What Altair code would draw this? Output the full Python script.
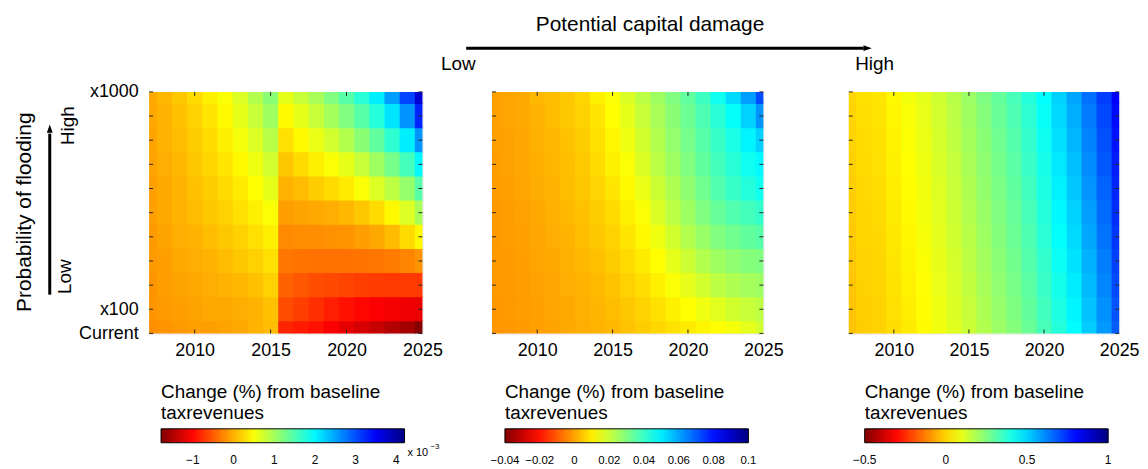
import altair as alt
import pandas as pd

FONT = "Liberation Sans"

# ---------------- axes / grid ----------------
years = list(range(2007, 2026))          # x grid nodes
levels = list(range(0, 11))              # 0 = Current, 1 = x100, ..., 10 = x1000
x_label_years = [2010, 2015, 2020, 2025]
inner_tick_years = [2010, 2015, 2020]
y_label_levels = [0, 1, 10]

# reversed "jet" colormap stops (evenly spaced)
jet_colors = ["#800000", "#ff0000", "#ff8000", "#ffff00", "#80ff80",
              "#00ffff", "#0080ff", "#0000ff", "#000080"]

# ---------------- panel 1 (values in units of 1e-3 %) rows L0..L10, cols 2007..2025
panel1_rows = [
    [-0.20, -0.17, -0.14, -0.11, -0.11, -0.08, -0.05, 0.01, 0.07, -0.82, -0.88, -0.94, -1.06, -1.18, -1.27, -1.36, -1.48, -1.57, -1.75],
    [-0.17, -0.14, -0.11, -0.08, -0.05, -0.05, -0.02, 0.01, 0.10, -0.58, -0.67, -0.76, -0.85, -0.94, -1.00, -1.06, -1.09, -1.12, -1.15],
    [-0.17, -0.11, -0.08, -0.05, -0.02, 0.01, 0.04, 0.10, 0.19, -0.46, -0.52, -0.58, -0.61, -0.64, -0.67, -0.69, -0.70, -0.70, -0.70],
    [-0.14, -0.11, -0.05, -0.02, 0.01, 0.07, 0.13, 0.19, 0.28, -0.34, -0.36, -0.37, -0.37, -0.37, -0.36, -0.34, -0.31, -0.26, -0.17],
    [-0.14, -0.08, -0.02, 0.01, 0.07, 0.13, 0.19, 0.28, 0.37, -0.23, -0.21, -0.20, -0.18, -0.17, -0.11, -0.05, 0.07, 0.25, 0.43],
    [-0.11, -0.05, 0.01, 0.07, 0.13, 0.19, 0.28, 0.37, 0.49, -0.11, -0.08, -0.05, -0.02, 0.04, 0.13, 0.25, 0.43, 0.67, 0.97],
    [-0.11, -0.05, 0.01, 0.10, 0.16, 0.25, 0.34, 0.46, 0.61, 0.01, 0.07, 0.16, 0.25, 0.34, 0.49, 0.67, 0.85, 1.09, 1.45],
    [-0.08, -0.02, 0.04, 0.13, 0.22, 0.31, 0.43, 0.55, 0.73, 0.13, 0.25, 0.37, 0.49, 0.61, 0.79, 1.03, 1.27, 1.57, 1.99],
    [-0.08, 0.01, 0.07, 0.16, 0.25, 0.37, 0.52, 0.67, 0.88, 0.28, 0.43, 0.58, 0.73, 0.91, 1.15, 1.39, 1.69, 2.05, 2.59],
    [-0.05, 0.01, 0.10, 0.19, 0.31, 0.43, 0.61, 0.79, 1.03, 0.43, 0.61, 0.79, 1.00, 1.21, 1.45, 1.75, 2.11, 2.59, 3.24],
    [-0.05, 0.04, 0.13, 0.25, 0.37, 0.49, 0.67, 0.91, 1.15, 0.61, 0.79, 0.97, 1.21, 1.45, 1.72, 2.05, 2.53, 3.06, 3.70],
]
panel1_domain = [-1.78, 4.2]
panel1_legend_values = [-1, 0, 1, 2, 3, 4]

# ---------------- panel 2 rows L0..L10, cols 2007..2025
panel2_rows = [
    [-0.0019, -0.0018, -0.0014, -0.0008, -0.0002, 0.0005, 0.0012, 0.0020, 0.0027, 0.0041, 0.0055, 0.0069, 0.0083, 0.0097, 0.0111, 0.0125, 0.0139, 0.0160, 0.0188],
    [-0.0018, -0.0016, -0.0012, -0.0007, 0.0000, 0.0007, 0.0016, 0.0024, 0.0034, 0.0048, 0.0065, 0.0083, 0.0104, 0.0125, 0.0146, 0.0167, 0.0188, 0.0202, 0.0216],
    [-0.0016, -0.0015, -0.0011, -0.0004, 0.0003, 0.0012, 0.0020, 0.0030, 0.0042, 0.0062, 0.0080, 0.0104, 0.0132, 0.0160, 0.0188, 0.0216, 0.0237, 0.0251, 0.0258],
    [-0.0015, -0.0014, -0.0009, -0.0001, 0.0006, 0.0016, 0.0027, 0.0038, 0.0055, 0.0076, 0.0097, 0.0125, 0.0160, 0.0195, 0.0230, 0.0258, 0.0279, 0.0293, 0.0300],
    [-0.0015, -0.0012, -0.0008, 0.0002, 0.0012, 0.0020, 0.0034, 0.0048, 0.0065, 0.0090, 0.0115, 0.0146, 0.0188, 0.0230, 0.0265, 0.0300, 0.0321, 0.0342, 0.0356],
    [-0.0015, -0.0011, -0.0005, 0.0006, 0.0016, 0.0027, 0.0041, 0.0055, 0.0076, 0.0104, 0.0132, 0.0174, 0.0216, 0.0258, 0.0300, 0.0335, 0.0363, 0.0384, 0.0405],
    [-0.0012, -0.0008, -0.0001, 0.0010, 0.0020, 0.0034, 0.0048, 0.0066, 0.0090, 0.0118, 0.0153, 0.0195, 0.0237, 0.0279, 0.0321, 0.0363, 0.0398, 0.0426, 0.0454],
    [-0.0011, -0.0005, 0.0002, 0.0013, 0.0024, 0.0037, 0.0051, 0.0076, 0.0104, 0.0132, 0.0174, 0.0216, 0.0258, 0.0300, 0.0342, 0.0384, 0.0419, 0.0454, 0.0482],
    [-0.0008, -0.0004, 0.0003, 0.0016, 0.0027, 0.0041, 0.0055, 0.0083, 0.0111, 0.0146, 0.0188, 0.0230, 0.0272, 0.0314, 0.0356, 0.0398, 0.0440, 0.0489, 0.0538],
    [-0.0008, -0.0001, 0.0006, 0.0020, 0.0034, 0.0048, 0.0062, 0.0090, 0.0125, 0.0160, 0.0202, 0.0244, 0.0286, 0.0328, 0.0370, 0.0419, 0.0468, 0.0538, 0.0622],
    [-0.0008, -0.0001, 0.0006, 0.0027, 0.0034, 0.0048, 0.0069, 0.0104, 0.0132, 0.0174, 0.0216, 0.0258, 0.0300, 0.0342, 0.0391, 0.0454, 0.0524, 0.0608, 0.0720],
]
panel2_domain = [-0.04001, 0.10001]
panel2_legend_values = [-0.04, -0.02, 0, 0.02, 0.04, 0.06, 0.08, 0.1]

# ---------------- panel 3 columns 2007..2025, each L0..L10
panel3_cols = [
    [-0.028, -0.025, -0.022, -0.019, -0.016, -0.013, -0.010, -0.007, -0.004, -0.001, 0.002],
    [-0.012, -0.009, -0.006, -0.003, 0.000, 0.003, 0.006, 0.009, 0.012, 0.015, 0.018],
    [-0.005, -0.002, 0.001, 0.004, 0.007, 0.010, 0.013, 0.016, 0.019, 0.022, 0.025],
    [0.013, 0.017, 0.021, 0.025, 0.029, 0.033, 0.037, 0.041, 0.045, 0.049, 0.053],
    [0.033, 0.037, 0.042, 0.046, 0.051, 0.055, 0.060, 0.064, 0.069, 0.073, 0.078],
    [0.056, 0.060, 0.065, 0.069, 0.074, 0.078, 0.083, 0.087, 0.092, 0.096, 0.101],
    [0.083, 0.088, 0.093, 0.098, 0.103, 0.108, 0.113, 0.118, 0.123, 0.128, 0.133],
    [0.108, 0.114, 0.120, 0.126, 0.132, 0.138, 0.144, 0.150, 0.156, 0.162, 0.168],
    [0.140, 0.147, 0.154, 0.161, 0.168, 0.175, 0.182, 0.189, 0.196, 0.203, 0.210],
    [0.176, 0.183, 0.191, 0.198, 0.206, 0.213, 0.221, 0.228, 0.236, 0.243, 0.251],
    [0.210, 0.218, 0.226, 0.234, 0.242, 0.250, 0.258, 0.266, 0.274, 0.282, 0.290],
    [0.243, 0.252, 0.261, 0.270, 0.279, 0.288, 0.297, 0.306, 0.315, 0.324, 0.333],
    [0.283, 0.293, 0.303, 0.313, 0.323, 0.333, 0.343, 0.353, 0.363, 0.373, 0.383],
    [0.333, 0.343, 0.354, 0.364, 0.375, 0.385, 0.396, 0.406, 0.417, 0.427, 0.438],
    [0.385, 0.397, 0.409, 0.421, 0.433, 0.445, 0.457, 0.469, 0.481, 0.493, 0.505],
    [0.440, 0.453, 0.466, 0.479, 0.492, 0.505, 0.518, 0.531, 0.544, 0.557, 0.570],
    [0.513, 0.526, 0.540, 0.553, 0.567, 0.580, 0.594, 0.607, 0.621, 0.634, 0.648],
    [0.588, 0.601, 0.615, 0.628, 0.642, 0.655, 0.669, 0.682, 0.696, 0.709, 0.723],
    [0.678, 0.691, 0.705, 0.718, 0.732, 0.745, 0.759, 0.772, 0.786, 0.799, 0.813],
]
panel3_domain = [-0.5001, 1.0001]
panel3_legend_values = [-0.5, 0, 0.5, 1]

legend_title = ["Change (%) from baseline", "taxrevenues"]

H = 243
OVERLAP = 0.06  # small overlap between neighbouring cells to hide anti-alias seams


def cell_frame(values_at):
    recs = []
    for li, lv in enumerate(levels):
        for yi, yr in enumerate(years):
            recs.append({"year": yr, "level": lv, "value": values_at(li, yi),
                         "x0": yr - 0.5, "x1": yr + 0.5 + OVERLAP,
                         "y0": lv - 0.5, "y1": lv + 0.5 + OVERLAP})
    return pd.DataFrame(recs)


df1 = cell_frame(lambda li, yi: panel1_rows[li][yi])
df2 = cell_frame(lambda li, yi: panel2_rows[li][yi])
df3 = cell_frame(lambda li, yi: panel3_cols[yi][li])

lev_df = pd.DataFrame({"level": levels})
tick_year_df = pd.DataFrame({"year": inner_tick_years})


def one(label):
    return alt.Chart(pd.DataFrame({"label": [label]}))


def panel(df, width, domain, legend_values, legend_format, legend_x, show_y, label_size=12):
    lo, hi = domain
    color_domain = [lo + k * (hi - lo) / 8 for k in range(9)]
    xscale = alt.Scale(domain=[2007, 2025], nice=False, zero=False)
    yscale = alt.Scale(domain=[0, 10], nice=False, zero=False)
    xaxis = alt.Axis(values=x_label_years, format="d", ticks=False, domain=False,
                     grid=False, title=None, labelFlush=False, labelFontSize=18,
                     labelPadding=8, labelColor="black", labelFont=FONT)
    if show_y:
        yaxis = alt.Axis(values=y_label_levels,
                         labelExpr="datum.value == 0 ? 'Current' : (datum.value == 1 ? 'x100' : 'x1000')",
                         ticks=False, domain=False, grid=False, title=None,
                         labelFontSize=18, labelPadding=11, labelColor="black", labelFont=FONT)
    else:
        yaxis = alt.Axis(labels=False, ticks=False, domain=False, grid=False, title=None)
    cscale = alt.Scale(domain=color_domain, range=jet_colors, interpolate="rgb")
    heat = alt.Chart(df).mark_rect(clip=True).encode(
        x=alt.X("x0:Q", scale=xscale, axis=xaxis),
        x2="x1:Q",
        y=alt.Y("y0:Q", scale=yscale, axis=yaxis),
        y2="y1:Q",
        color=alt.Color("value:Q", scale=cscale,
                        legend=alt.Legend(type="gradient", orient="none", legendX=legend_x, legendY=293,
                                          direction="horizontal", gradientLength=245,
                                          gradientThickness=14, title=legend_title,
                                          titleFontSize=19, titleFontWeight="normal",
                                          titleLineHeight=21, titleColor="black", titleLimit=400,
                                          titleFont=FONT, titleAlign="left", titlePadding=6,
                                          labelFontSize=label_size, labelColor="black", labelFont=FONT,
                                          values=legend_values, format=legend_format,
                                          labelOverlap=False, labelAlign="center",
                                          labelOffset=12, gradientStrokeColor="black",
                                          gradientStrokeWidth=1, padding=0)),
    )
    tcol = "#262626"
    left_t = alt.Chart(lev_df).mark_rule(color=tcol).encode(
        y=alt.Y("level:Q", scale=yscale, axis=yaxis), x=alt.value(0), x2=alt.value(4))
    right_t = alt.Chart(lev_df).mark_rule(color=tcol).encode(
        y=alt.Y("level:Q", scale=yscale, axis=yaxis), x=alt.value(width - 4), x2=alt.value(width))
    top_t = alt.Chart(tick_year_df).mark_rule(color=tcol).encode(
        x=alt.X("year:Q", scale=xscale, axis=xaxis), y=alt.value(0), y2=alt.value(4))
    bot_t = alt.Chart(tick_year_df).mark_rule(color=tcol).encode(
        x=alt.X("year:Q", scale=xscale, axis=xaxis), y=alt.value(H - 4), y2=alt.value(H))
    return [heat, left_t, right_t, top_t, bot_t]


txt = dict(font=FONT, color="black")

# ---- panel 1 + left annotations
p1_layers = panel(df1, 275, panel1_domain, panel1_legend_values, "d", 12, True)
p1_layers += [
    one("Probability of flooding").mark_text(fontSize=21, angle=270, align="center", baseline="middle", **txt)
    .encode(x=alt.value(-125), y=alt.value(121), text="label:N"),
    one("High").mark_text(fontSize=19, angle=270, align="center", baseline="middle", **txt)
    .encode(x=alt.value(-82), y=alt.value(34), text="label:N"),
    one("Low").mark_text(fontSize=19, angle=270, align="center", baseline="middle", **txt)
    .encode(x=alt.value(-85), y=alt.value(186), text="label:N"),
    one("arrow").mark_rule(color="black", strokeWidth=3)
    .encode(x=alt.value(-100), y=alt.value(42), y2=alt.value(204)),
    one("head").mark_point(shape="M -0.7 1 L 0 -1 L 0.7 1 Z", size=70, filled=True, color="black", opacity=1)
    .encode(x=alt.value(-100), y=alt.value(37)),
    one("x 10").mark_text(fontSize=11, align="left", baseline="middle", **txt)
    .encode(x=alt.value(260), y=alt.value(363), text="label:N"),
    one("\u22123").mark_text(fontSize=8, align="left", baseline="middle", **txt)
    .encode(x=alt.value(283), y=alt.value(357), text="label:N"),
]
p1 = alt.layer(*p1_layers).properties(width=275, height=H)

# ---- panel 2 + top annotations
p2_layers = panel(df2, 273, panel2_domain, panel2_legend_values, ".2~f", 13, False, label_size=11.5)
p2_layers += [
    one("Potential capital damage").mark_text(fontSize=21, align="center", baseline="middle", **txt)
    .encode(x=alt.value(159), y=alt.value(-67), text="label:N"),
    one("Low").mark_text(fontSize=19, align="center", baseline="middle", **txt)
    .encode(x=alt.value(-34), y=alt.value(-28), text="label:N"),
    one("High").mark_text(fontSize=19, align="center", baseline="middle", **txt)
    .encode(x=alt.value(385), y=alt.value(-28), text="label:N"),
    one("arrow").mark_rule(color="black", strokeWidth=3)
    .encode(x=alt.value(-26), x2=alt.value(374), y=alt.value(-44)),
    one("head").mark_point(shape="M -1 -0.7 L 1 0 L -1 0.7 Z", size=70, filled=True, color="black", opacity=1)
    .encode(x=alt.value(378), y=alt.value(-44)),
]
p2 = alt.layer(*p2_layers).properties(width=273, height=H)

# ---- panel 3
p3 = alt.layer(*panel(df3, 272, panel3_domain, panel3_legend_values, ".1~f", 16, False)).properties(width=272, height=H)


def spacer(w):
    return alt.Chart(pd.DataFrame({"s": [0]})).mark_point(opacity=0).properties(
        width=w, height=H, view=alt.ViewBackground(strokeOpacity=0))


chart = alt.hconcat(p1, spacer(70), p2, spacer(86), p3, spacing=0, bounds="flush").resolve_scale(
    color="independent", x="independent", y="independent"
).properties(
    padding={"left": 5, "top": 4, "right": 0, "bottom": 0}
).configure_view(stroke="#262626", strokeWidth=1).configure(font=FONT)

chart.save("out.html", embed_options={"renderer": "svg", "actions": False})
